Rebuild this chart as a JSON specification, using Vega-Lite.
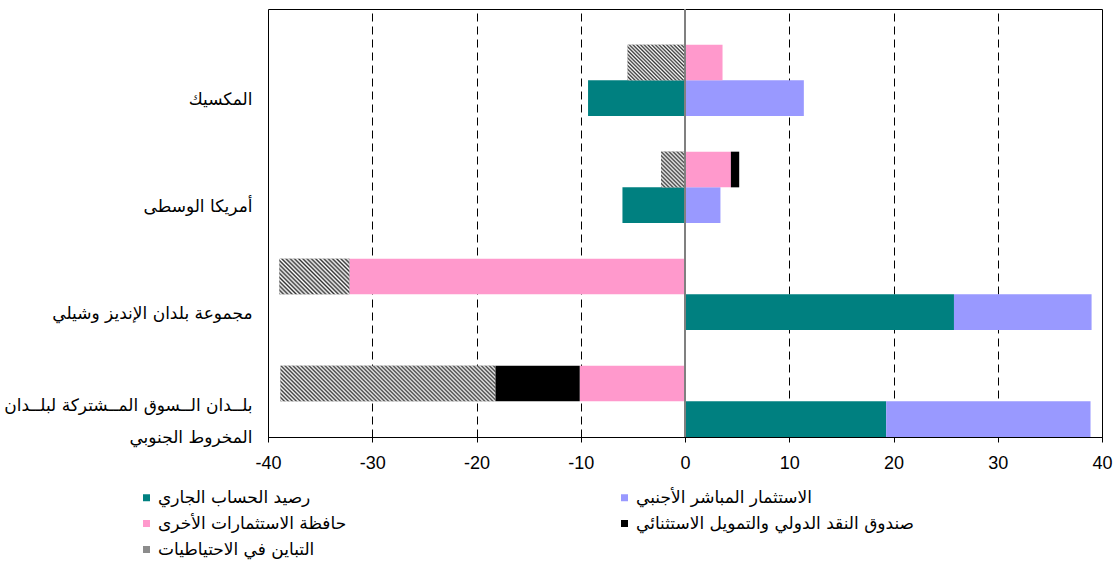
{
  "$schema": "https://vega.github.io/schema/vega-lite/v6.json",
  "width": 834,
  "height": 428,
  "autosize": "none",
  "padding": {"left": 268, "top": 9, "right": 13, "bottom": 129},
  "background": "white",
  "config": {
    "view": {"stroke": "#000", "strokeWidth": 1},
    "font": "Liberation Sans"
  },
  "data": {
    "values": [
      {"country": "المكسيك", "row": "cur", "series": "رصيد الحساب الجاري", "k": 1, "value": -9.3},
      {"country": "المكسيك", "row": "cur", "series": "الاستثمار المباشر الأجنبي", "k": 2, "value": 11.4},
      {"country": "المكسيك", "row": "fin", "series": "حافظة الاستثمارات الأخرى", "k": 3, "value": 3.6},
      {"country": "المكسيك", "row": "fin", "series": "التباين في الاحتياطيات", "k": 5, "value": -5.5},

      {"country": "أمريكا الوسطى", "row": "cur", "series": "رصيد الحساب الجاري", "k": 1, "value": -6.0},
      {"country": "أمريكا الوسطى", "row": "cur", "series": "الاستثمار المباشر الأجنبي", "k": 2, "value": 3.4},
      {"country": "أمريكا الوسطى", "row": "fin", "series": "حافظة الاستثمارات الأخرى", "k": 3, "value": 4.4},
      {"country": "أمريكا الوسطى", "row": "fin", "series": "صندوق النقد الدولي والتمويل الاستثنائي", "k": 4, "value": 0.8},
      {"country": "أمريكا الوسطى", "row": "fin", "series": "التباين في الاحتياطيات", "k": 5, "value": -2.3},

      {"country": "مجموعة بلدان الإنديز وشيلي", "row": "cur", "series": "رصيد الحساب الجاري", "k": 1, "value": 25.8},
      {"country": "مجموعة بلدان الإنديز وشيلي", "row": "cur", "series": "الاستثمار المباشر الأجنبي", "k": 2, "value": 13.2},
      {"country": "مجموعة بلدان الإنديز وشيلي", "row": "fin", "series": "حافظة الاستثمارات الأخرى", "k": 3, "value": -32.2},
      {"country": "مجموعة بلدان الإنديز وشيلي", "row": "fin", "series": "التباين في الاحتياطيات", "k": 5, "value": -6.7},

      {"country": "بلدان السوق المشتركة لبلدان المخروط الجنوبي", "row": "cur", "series": "رصيد الحساب الجاري", "k": 1, "value": 19.3},
      {"country": "بلدان السوق المشتركة لبلدان المخروط الجنوبي", "row": "cur", "series": "الاستثمار المباشر الأجنبي", "k": 2, "value": 19.6},
      {"country": "بلدان السوق المشتركة لبلدان المخروط الجنوبي", "row": "fin", "series": "حافظة الاستثمارات الأخرى", "k": 3, "value": -10.1},
      {"country": "بلدان السوق المشتركة لبلدان المخروط الجنوبي", "row": "fin", "series": "صندوق النقد الدولي والتمويل الاستثنائي", "k": 4, "value": -8.1},
      {"country": "بلدان السوق المشتركة لبلدان المخروط الجنوبي", "row": "fin", "series": "التباين في الاحتياطيات", "k": 5, "value": -20.6}
    ]
  },
  "layer": [
    {
      "transform": [
        {"stack": "value", "groupby": ["country", "row"], "sort": [{"field": "k", "order": "ascending"}], "as": ["v0", "v1"]}
      ],
      "encoding": {
        "y": {
          "field": "country",
          "type": "nominal",
          "sort": ["المكسيك", "أمريكا الوسطى", "مجموعة بلدان الإنديز وشيلي", "بلدان السوق المشتركة لبلدان المخروط الجنوبي"],
          "scale": {"paddingInner": 0, "paddingOuter": 0},
          "axis": {
            "title": null,
            "domain": false,
            "ticks": false,
            "labelFont": "DejaVu Sans",
            "labelFontSize": 17,
            "labelColor": "#000",
            "labelPadding": 16,
            "labelOffset": {"condition": {"test": "datum.value == 'بلدان السوق المشتركة لبلدان المخروط الجنوبي'", "value": 22}, "value": 37},
            "labelLimit": 300,
            "labelLineHeight": 32,
            "labelExpr": "datum.value == 'بلدان السوق المشتركة لبلدان المخروط الجنوبي' ? ['بلــدان الــسوق المــشتركة لبلــدان', 'المخروط الجنوبي'] : datum.label"
          }
        },
        "yOffset": {
          "field": "row",
          "type": "nominal",
          "scale": {"domain": ["gap", "fin", "cur"], "paddingInner": 0, "paddingOuter": 0}
        },
        "x": {
          "field": "v0",
          "type": "quantitative",
          "scale": {"domain": [-40, 40], "nice": false, "zero": false},
          "axis": {
            "title": null,
            "values": [-40, -30, -20, -10, 0, 10, 20, 30, 40],
            "labelExpr": "'' + datum.value",
            "grid": true,
            "gridDash": [8, 5],
            "gridColor": "#000",
            "gridOpacity": 1,
            "domainColor": "#000",
            "tickColor": "#000",
            "tickSize": 5,
            "labelFont": "Liberation Sans",
            "labelFontSize": 18,
            "labelColor": "#000",
            "labelPadding": 12,
            "labelFlush": false,
            "labelOverlap": false
          }
        },
        "x2": {"field": "v1"}
      },
      "layer": [
        {
          "mark": {"type": "bar"},
          "encoding": {
            "color": {
              "field": "series",
              "type": "nominal",
              "scale": {
                "domain": ["رصيد الحساب الجاري", "حافظة الاستثمارات الأخرى", "التباين في الاحتياطيات", "الاستثمار المباشر الأجنبي", "صندوق النقد الدولي والتمويل الاستثنائي"],
                "range": ["#008080", "#FF99CC", "#8c8c8c", "#9999FF", "#000000"]
              },
              "legend": {
                "title": null,
                "orient": "none",
                "legendX": -130,
                "legendY": 480,
                "columns": 2,
                "columnPadding": 269,
                "rowPadding": 8,
                "padding": 0,
                "symbolType": "square",
                "symbolSize": 49,
                "symbolStrokeWidth": 0,
                "symbolOpacity": 1,
                "labelFont": "DejaVu Sans",
                "labelFontSize": 17,
                "labelColor": "#000",
                "labelOffset": 3,
                "labelLimit": 400
              }
            }
          }
        },
        {
          "transform": [{"filter": "datum.series == 'التباين في الاحتياطيات' && datum.country == 'المكسيك'"}],
          "mark": {"type": "bar", "fill": {"gradient": "linear", "x1": 0, "y1": 1, "x2": 1.169, "y2": 0.272, "stops": [
            {"offset": 0, "color": "#333"}, {"offset": 0.02, "color": "#fff"}, {"offset": 0.04, "color": "#333"}, {"offset": 0.06, "color": "#fff"},
            {"offset": 0.08, "color": "#333"}, {"offset": 0.1, "color": "#fff"}, {"offset": 0.12, "color": "#333"}, {"offset": 0.14, "color": "#fff"},
            {"offset": 0.16, "color": "#333"}, {"offset": 0.18, "color": "#fff"}, {"offset": 0.2, "color": "#333"}, {"offset": 0.22, "color": "#fff"},
            {"offset": 0.24, "color": "#333"}, {"offset": 0.26, "color": "#fff"}, {"offset": 0.28, "color": "#333"}, {"offset": 0.3, "color": "#fff"},
            {"offset": 0.32, "color": "#333"}, {"offset": 0.34, "color": "#fff"}, {"offset": 0.36, "color": "#333"}, {"offset": 0.38, "color": "#fff"},
            {"offset": 0.4, "color": "#333"}, {"offset": 0.42, "color": "#fff"}, {"offset": 0.44, "color": "#333"}, {"offset": 0.46, "color": "#fff"},
            {"offset": 0.48, "color": "#333"}, {"offset": 0.5, "color": "#fff"}, {"offset": 0.52, "color": "#333"}, {"offset": 0.54, "color": "#fff"},
            {"offset": 0.56, "color": "#333"}, {"offset": 0.58, "color": "#fff"}, {"offset": 0.6, "color": "#333"}, {"offset": 0.62, "color": "#fff"},
            {"offset": 0.64, "color": "#333"}, {"offset": 0.66, "color": "#fff"}, {"offset": 0.68, "color": "#333"}, {"offset": 0.7, "color": "#fff"},
            {"offset": 0.72, "color": "#333"}, {"offset": 0.74, "color": "#fff"}, {"offset": 0.76, "color": "#333"}, {"offset": 0.78, "color": "#fff"},
            {"offset": 0.8, "color": "#333"}, {"offset": 0.82, "color": "#fff"}, {"offset": 0.84, "color": "#333"}, {"offset": 0.86, "color": "#fff"},
            {"offset": 0.88, "color": "#333"}, {"offset": 0.9, "color": "#fff"}, {"offset": 0.92, "color": "#333"}, {"offset": 0.94, "color": "#fff"},
            {"offset": 0.96, "color": "#333"}, {"offset": 0.98, "color": "#fff"}, {"offset": 1, "color": "#333"}
          ]}}
        },
        {
          "transform": [{"filter": "datum.series == 'التباين في الاحتياطيات' && datum.country == 'أمريكا الوسطى'"}],
          "mark": {"type": "bar", "fill": {"gradient": "linear", "x1": 0, "y1": 1, "x2": 0.774, "y2": -0.152, "stops": [
            {"offset": 0, "color": "#333"}, {"offset": 0.0333, "color": "#fff"}, {"offset": 0.0667, "color": "#333"}, {"offset": 0.1, "color": "#fff"},
            {"offset": 0.1333, "color": "#333"}, {"offset": 0.1667, "color": "#fff"}, {"offset": 0.2, "color": "#333"}, {"offset": 0.2333, "color": "#fff"},
            {"offset": 0.2667, "color": "#333"}, {"offset": 0.3, "color": "#fff"}, {"offset": 0.3333, "color": "#333"}, {"offset": 0.3667, "color": "#fff"},
            {"offset": 0.4, "color": "#333"}, {"offset": 0.4333, "color": "#fff"}, {"offset": 0.4667, "color": "#333"}, {"offset": 0.5, "color": "#fff"},
            {"offset": 0.5333, "color": "#333"}, {"offset": 0.5667, "color": "#fff"}, {"offset": 0.6, "color": "#333"}, {"offset": 0.6333, "color": "#fff"},
            {"offset": 0.6667, "color": "#333"}, {"offset": 0.7, "color": "#fff"}, {"offset": 0.7333, "color": "#333"}, {"offset": 0.7667, "color": "#fff"},
            {"offset": 0.8, "color": "#333"}, {"offset": 0.8333, "color": "#fff"}, {"offset": 0.8667, "color": "#333"}, {"offset": 0.9, "color": "#fff"},
            {"offset": 0.9333, "color": "#333"}, {"offset": 0.9667, "color": "#fff"}, {"offset": 1, "color": "#333"}
          ]}}
        },
        {
          "transform": [{"filter": "datum.series == 'التباين في الاحتياطيات' && datum.country == 'مجموعة بلدان الإنديز وشيلي'"}],
          "mark": {"type": "bar", "fill": {"gradient": "linear", "x1": 0, "y1": 1, "x2": 1.198, "y2": 0.388, "stops": [
            {"offset": 0, "color": "#333"}, {"offset": 0.02, "color": "#fff"}, {"offset": 0.04, "color": "#333"}, {"offset": 0.06, "color": "#fff"},
            {"offset": 0.08, "color": "#333"}, {"offset": 0.1, "color": "#fff"}, {"offset": 0.12, "color": "#333"}, {"offset": 0.14, "color": "#fff"},
            {"offset": 0.16, "color": "#333"}, {"offset": 0.18, "color": "#fff"}, {"offset": 0.2, "color": "#333"}, {"offset": 0.22, "color": "#fff"},
            {"offset": 0.24, "color": "#333"}, {"offset": 0.26, "color": "#fff"}, {"offset": 0.28, "color": "#333"}, {"offset": 0.3, "color": "#fff"},
            {"offset": 0.32, "color": "#333"}, {"offset": 0.34, "color": "#fff"}, {"offset": 0.36, "color": "#333"}, {"offset": 0.38, "color": "#fff"},
            {"offset": 0.4, "color": "#333"}, {"offset": 0.42, "color": "#fff"}, {"offset": 0.44, "color": "#333"}, {"offset": 0.46, "color": "#fff"},
            {"offset": 0.48, "color": "#333"}, {"offset": 0.5, "color": "#fff"}, {"offset": 0.52, "color": "#333"}, {"offset": 0.54, "color": "#fff"},
            {"offset": 0.56, "color": "#333"}, {"offset": 0.58, "color": "#fff"}, {"offset": 0.6, "color": "#333"}, {"offset": 0.62, "color": "#fff"},
            {"offset": 0.64, "color": "#333"}, {"offset": 0.66, "color": "#fff"}, {"offset": 0.68, "color": "#333"}, {"offset": 0.7, "color": "#fff"},
            {"offset": 0.72, "color": "#333"}, {"offset": 0.74, "color": "#fff"}, {"offset": 0.76, "color": "#333"}, {"offset": 0.78, "color": "#fff"},
            {"offset": 0.8, "color": "#333"}, {"offset": 0.82, "color": "#fff"}, {"offset": 0.84, "color": "#333"}, {"offset": 0.86, "color": "#fff"},
            {"offset": 0.88, "color": "#333"}, {"offset": 0.9, "color": "#fff"}, {"offset": 0.92, "color": "#333"}, {"offset": 0.94, "color": "#fff"},
            {"offset": 0.96, "color": "#333"}, {"offset": 0.98, "color": "#fff"}, {"offset": 1, "color": "#333"}
          ]}}
        },
        {
          "transform": [{"filter": "datum.series == 'التباين في الاحتياطيات' && datum.country == 'بلدان السوق المشتركة لبلدان المخروط الجنوبي'"}],
          "mark": {"type": "bar", "fill": {"gradient": "linear", "x1": 0, "y1": 1, "x2": 1.135, "y2": 0.8115, "stops": [
            {"offset": 0, "color": "#333"}, {"offset": 0.008, "color": "#fff"}, {"offset": 0.016, "color": "#333"}, {"offset": 0.024, "color": "#fff"},
            {"offset": 0.032, "color": "#333"}, {"offset": 0.04, "color": "#fff"}, {"offset": 0.048, "color": "#333"}, {"offset": 0.056, "color": "#fff"},
            {"offset": 0.064, "color": "#333"}, {"offset": 0.072, "color": "#fff"}, {"offset": 0.08, "color": "#333"}, {"offset": 0.088, "color": "#fff"},
            {"offset": 0.096, "color": "#333"}, {"offset": 0.104, "color": "#fff"}, {"offset": 0.112, "color": "#333"}, {"offset": 0.12, "color": "#fff"},
            {"offset": 0.128, "color": "#333"}, {"offset": 0.136, "color": "#fff"}, {"offset": 0.144, "color": "#333"}, {"offset": 0.152, "color": "#fff"},
            {"offset": 0.16, "color": "#333"}, {"offset": 0.168, "color": "#fff"}, {"offset": 0.176, "color": "#333"}, {"offset": 0.184, "color": "#fff"},
            {"offset": 0.192, "color": "#333"}, {"offset": 0.2, "color": "#fff"}, {"offset": 0.208, "color": "#333"}, {"offset": 0.216, "color": "#fff"},
            {"offset": 0.224, "color": "#333"}, {"offset": 0.232, "color": "#fff"}, {"offset": 0.24, "color": "#333"}, {"offset": 0.248, "color": "#fff"},
            {"offset": 0.256, "color": "#333"}, {"offset": 0.264, "color": "#fff"}, {"offset": 0.272, "color": "#333"}, {"offset": 0.28, "color": "#fff"},
            {"offset": 0.288, "color": "#333"}, {"offset": 0.296, "color": "#fff"}, {"offset": 0.304, "color": "#333"}, {"offset": 0.312, "color": "#fff"},
            {"offset": 0.32, "color": "#333"}, {"offset": 0.328, "color": "#fff"}, {"offset": 0.336, "color": "#333"}, {"offset": 0.344, "color": "#fff"},
            {"offset": 0.352, "color": "#333"}, {"offset": 0.36, "color": "#fff"}, {"offset": 0.368, "color": "#333"}, {"offset": 0.376, "color": "#fff"},
            {"offset": 0.384, "color": "#333"}, {"offset": 0.392, "color": "#fff"}, {"offset": 0.4, "color": "#333"}, {"offset": 0.408, "color": "#fff"},
            {"offset": 0.416, "color": "#333"}, {"offset": 0.424, "color": "#fff"}, {"offset": 0.432, "color": "#333"}, {"offset": 0.44, "color": "#fff"},
            {"offset": 0.448, "color": "#333"}, {"offset": 0.456, "color": "#fff"}, {"offset": 0.464, "color": "#333"}, {"offset": 0.472, "color": "#fff"},
            {"offset": 0.48, "color": "#333"}, {"offset": 0.488, "color": "#fff"}, {"offset": 0.496, "color": "#333"}, {"offset": 0.504, "color": "#fff"},
            {"offset": 0.512, "color": "#333"}, {"offset": 0.52, "color": "#fff"}, {"offset": 0.528, "color": "#333"}, {"offset": 0.536, "color": "#fff"},
            {"offset": 0.544, "color": "#333"}, {"offset": 0.552, "color": "#fff"}, {"offset": 0.56, "color": "#333"}, {"offset": 0.568, "color": "#fff"},
            {"offset": 0.576, "color": "#333"}, {"offset": 0.584, "color": "#fff"}, {"offset": 0.592, "color": "#333"}, {"offset": 0.6, "color": "#fff"},
            {"offset": 0.608, "color": "#333"}, {"offset": 0.616, "color": "#fff"}, {"offset": 0.624, "color": "#333"}, {"offset": 0.632, "color": "#fff"},
            {"offset": 0.64, "color": "#333"}, {"offset": 0.648, "color": "#fff"}, {"offset": 0.656, "color": "#333"}, {"offset": 0.664, "color": "#fff"},
            {"offset": 0.672, "color": "#333"}, {"offset": 0.68, "color": "#fff"}, {"offset": 0.688, "color": "#333"}, {"offset": 0.696, "color": "#fff"},
            {"offset": 0.704, "color": "#333"}, {"offset": 0.712, "color": "#fff"}, {"offset": 0.72, "color": "#333"}, {"offset": 0.728, "color": "#fff"},
            {"offset": 0.736, "color": "#333"}, {"offset": 0.744, "color": "#fff"}, {"offset": 0.752, "color": "#333"}, {"offset": 0.76, "color": "#fff"},
            {"offset": 0.768, "color": "#333"}, {"offset": 0.776, "color": "#fff"}, {"offset": 0.784, "color": "#333"}, {"offset": 0.792, "color": "#fff"},
            {"offset": 0.8, "color": "#333"}, {"offset": 0.808, "color": "#fff"}, {"offset": 0.816, "color": "#333"}, {"offset": 0.824, "color": "#fff"},
            {"offset": 0.832, "color": "#333"}, {"offset": 0.84, "color": "#fff"}, {"offset": 0.848, "color": "#333"}, {"offset": 0.856, "color": "#fff"},
            {"offset": 0.864, "color": "#333"}, {"offset": 0.872, "color": "#fff"}, {"offset": 0.88, "color": "#333"}, {"offset": 0.888, "color": "#fff"},
            {"offset": 0.896, "color": "#333"}, {"offset": 0.904, "color": "#fff"}, {"offset": 0.912, "color": "#333"}, {"offset": 0.92, "color": "#fff"},
            {"offset": 0.928, "color": "#333"}, {"offset": 0.936, "color": "#fff"}, {"offset": 0.944, "color": "#333"}, {"offset": 0.952, "color": "#fff"},
            {"offset": 0.96, "color": "#333"}, {"offset": 0.968, "color": "#fff"}, {"offset": 0.976, "color": "#333"}, {"offset": 0.984, "color": "#fff"},
            {"offset": 0.992, "color": "#333"}, {"offset": 1, "color": "#fff"}
          ]}}
        }
      ]
    },
    {
      "data": {"values": [{"zero": 0}]},
      "mark": {"type": "rule", "color": "#808080", "strokeWidth": 2},
      "encoding": {
        "x": {"field": "zero", "type": "quantitative", "axis": {"title": null}}
      }
    }
  ]
}
